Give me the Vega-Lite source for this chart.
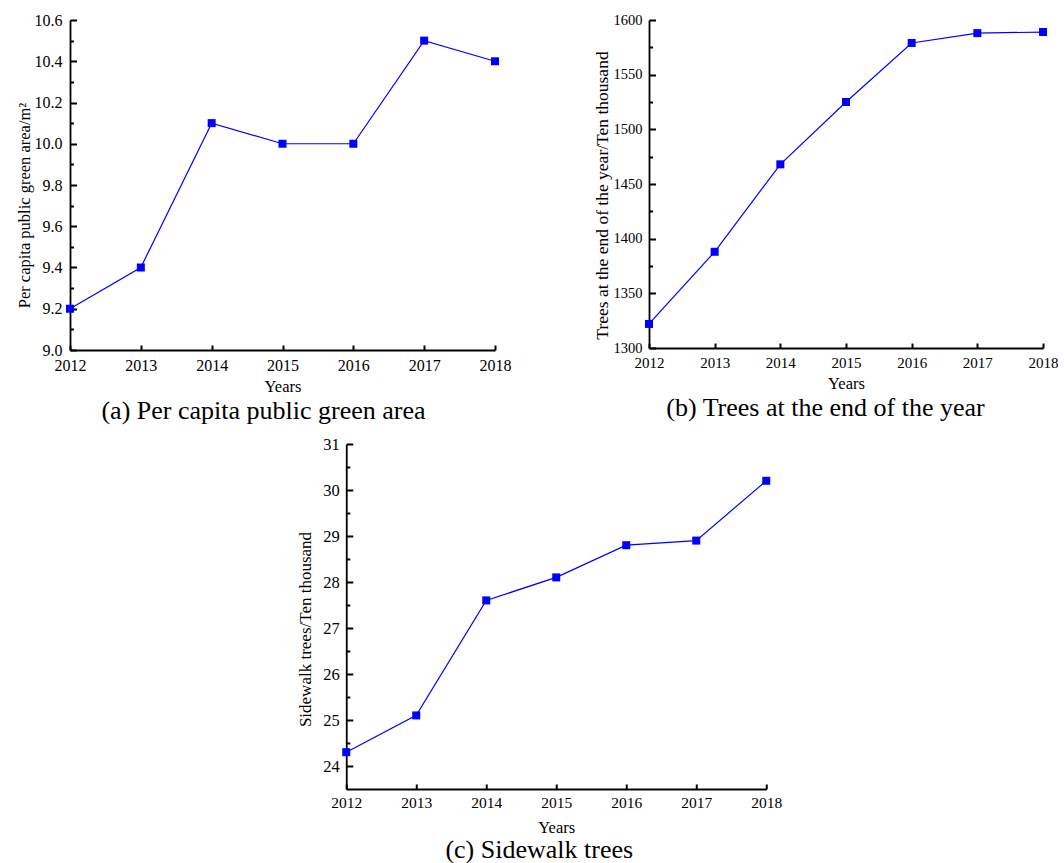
{
  "$schema": "https://vega.github.io/schema/vega-lite/v6.json",
  "background": "white",
  "padding": {"left": 16, "top": 12, "right": 0, "bottom": 0},
  "config": {
    "font": "Liberation Serif",
    "view": {"stroke": null},
    "axis": {
      "domainColor": "black", "domainWidth": 1.8,
      "tickColor": "black", "tickWidth": 2, "tickOpacity": 1,
      "labelColor": "black", "titleColor": "black",
      "labelFont": "Liberation Serif", "titleFont": "Liberation Serif",
      "titleFontWeight": "normal", "grid": false,
      "labelFlush": false, "labelOverlap": false
    },
    "title": {"font": "Liberation Serif", "fontSize": 26, "fontWeight": "normal", "orient": "bottom", "offset": 3, "color": "black", "anchor": "middle", "frame": "bounds"}
  },
  "datasets": {
    "a": [
      {"year": 2012, "value": 9.2}, {"year": 2013, "value": 9.4}, {"year": 2014, "value": 10.1},
      {"year": 2015, "value": 10.0}, {"year": 2016, "value": 10.0}, {"year": 2017, "value": 10.5}, {"year": 2018, "value": 10.4}
    ],
    "b": [
      {"year": 2012, "value": 1322}, {"year": 2013, "value": 1388}, {"year": 2014, "value": 1468},
      {"year": 2015, "value": 1525}, {"year": 2016, "value": 1579}, {"year": 2017, "value": 1588}, {"year": 2018, "value": 1589}
    ],
    "c": [
      {"year": 2012, "value": 24.3}, {"year": 2013, "value": 25.1}, {"year": 2014, "value": 27.6},
      {"year": 2015, "value": 28.1}, {"year": 2016, "value": 28.8}, {"year": 2017, "value": 28.9}, {"year": 2018, "value": 30.2}
    ]
  },
  "vconcat": [
    {
      "hconcat": [
        {
          "width": 425, "height": 330,
          "data": {"name": "a"},
          "title": {"text": "(a) Per capita public green area"},
          "layer": [
            {
              "mark": {"type": "line", "color": "#0000ff", "strokeWidth": 1.2},
              "encoding": {
                "x": {"field": "year", "type": "quantitative", "scale": {"domain": [2012, 2018], "nice": false, "zero": false},
                  "axis": {"title": "Years", "values": [2012, 2013, 2014, 2015, 2016, 2017, 2018], "format": "d", "ticks": false, "labelPadding": 7, "titlePadding": 5, "labelFontSize": 16, "titleFontSize": 16.5}},
                "y": {"field": "value", "type": "quantitative", "scale": {"domain": [9.0, 10.6], "nice": false, "zero": false},
                  "axis": {"title": "Per capita public green area/m²",
                    "values": [9.0, 9.2, 9.4, 9.6, 9.8, 10.0, 10.2, 10.4, 10.6], "format": ".1f",
                    "ticks": false, "labelPadding": 8, "titlePadding": 2, "titleY": 185, "labelFontSize": 16, "titleFontSize": 16.5}}
              }
            },
            {
              "mark": {"type": "point", "shape": "square", "filled": true, "color": "#0000ff", "size": 64, "opacity": 1},
              "encoding": {
                "x": {"field": "year", "type": "quantitative", "scale": {"domain": [2012, 2018], "nice": false, "zero": false},
                  "axis": {"orient": "top", "offset": -330, "title": null, "labels": false, "domain": false, "ticks": true, "values": [2012, 2013, 2014, 2015, 2016, 2017, 2018], "tickSize": 5}},
                "y": {"field": "value", "type": "quantitative", "scale": {"domain": [9.0, 10.6], "nice": false, "zero": false},
                  "axis": {"orient": "right", "offset": -425, "title": null, "labels": false, "domain": false, "ticks": true,
                    "values": [9.0, 9.1, 9.2, 9.3, 9.4, 9.5, 9.6, 9.7, 9.8, 9.9, 10.0, 10.1, 10.2, 10.3, 10.4, 10.5, 10.6],
                    "tickSize": {"condition": {"test": "round(datum.value*10) % 2 != 0", "value": 3.5}, "value": 6.5}}}
              }
            }
          ],
          "resolve": {"axis": {"x": "independent", "y": "independent"}}
        },
        {
          "width": 394, "height": 328,
          "data": {"name": "b"},
          "title": {"text": "(b) Trees at the end of the year"},
          "layer": [
            {
              "mark": {"type": "line", "color": "#0000ff", "strokeWidth": 1.2},
              "encoding": {
                "x": {"field": "year", "type": "quantitative", "scale": {"domain": [2012, 2018], "nice": false, "zero": false},
                  "axis": {"title": "Years", "values": [2012, 2013, 2014, 2015, 2016, 2017, 2018], "format": "d", "ticks": false, "labelPadding": 7, "titlePadding": 5, "labelFontSize": 15, "titleFontSize": 16.5}},
                "y": {"field": "value", "type": "quantitative", "scale": {"domain": [1300, 1600], "nice": false, "zero": false},
                  "axis": {"title": "Trees at the end of the year/Ten thousand",
                    "values": [1300, 1350, 1400, 1450, 1500, 1550, 1600], "format": "d",
                    "ticks": false, "labelPadding": 7, "titlePadding": 2, "titleY": 175, "labelFontSize": 14.5, "titleFontSize": 17.5}}
              }
            },
            {
              "mark": {"type": "point", "shape": "square", "filled": true, "color": "#0000ff", "size": 64, "opacity": 1},
              "encoding": {
                "x": {"field": "year", "type": "quantitative", "scale": {"domain": [2012, 2018], "nice": false, "zero": false},
                  "axis": {"orient": "top", "offset": -328, "title": null, "labels": false, "domain": false, "ticks": true, "values": [2012, 2013, 2014, 2015, 2016, 2017, 2018], "tickSize": 5}},
                "y": {"field": "value", "type": "quantitative", "scale": {"domain": [1300, 1600], "nice": false, "zero": false},
                  "axis": {"orient": "right", "offset": -394, "title": null, "labels": false, "domain": false, "ticks": true,
                    "values": [1300, 1325, 1350, 1375, 1400, 1425, 1450, 1475, 1500, 1525, 1550, 1575, 1600],
                    "tickSize": {"condition": {"test": "datum.value % 50 != 0", "value": 3.5}, "value": 6.5}}}
              }
            }
          ],
          "resolve": {"axis": {"x": "independent", "y": "independent"}}
        }
      ],
      "spacing": 154,
      "bounds": "flush"
    },
    {
      "width": 420, "height": 345,
      "data": {"name": "c"},
      "title": {"text": "(c) Sidewalk trees", "offset": 1},
      "layer": [
        {
          "mark": {"type": "line", "color": "#0000ff", "strokeWidth": 1.2},
          "encoding": {
            "x": {"field": "year", "type": "quantitative", "scale": {"domain": [2012, 2018], "nice": false, "zero": false},
              "axis": {"title": "Years", "values": [2012, 2013, 2014, 2015, 2016, 2017, 2018], "format": "d", "ticks": false, "labelPadding": 6, "titlePadding": 9, "labelFontSize": 15.5, "titleFontSize": 16.5}},
            "y": {"field": "value", "type": "quantitative", "scale": {"domain": [23.5, 31], "nice": false, "zero": false},
              "axis": {"title": "Sidewalk trees/Ten thousand",
                "values": [24, 25, 26, 27, 28, 29, 30, 31], "format": "d",
                "ticks": false, "labelPadding": 7, "titlePadding": 8, "titleY": 185, "labelFontSize": 16.5, "titleFontSize": 17}}
          }
        },
        {
          "mark": {"type": "point", "shape": "square", "filled": true, "color": "#0000ff", "size": 64, "opacity": 1},
          "encoding": {
            "x": {"field": "year", "type": "quantitative", "scale": {"domain": [2012, 2018], "nice": false, "zero": false},
              "axis": {"orient": "top", "offset": -345, "title": null, "labels": false, "domain": false, "ticks": true, "values": [2012, 2013, 2014, 2015, 2016, 2017, 2018], "tickSize": 5}},
            "y": {"field": "value", "type": "quantitative", "scale": {"domain": [23.5, 31], "nice": false, "zero": false},
              "axis": {"orient": "right", "offset": -420, "title": null, "labels": false, "domain": false, "ticks": true,
                "values": [24, 24.5, 25, 25.5, 26, 26.5, 27, 27.5, 28, 28.5, 29, 29.5, 30, 30.5, 31],
                "tickSize": {"condition": {"test": "datum.value % 1 != 0", "value": 3.5}, "value": 6.5}}}
          }
        }
      ],
      "resolve": {"axis": {"x": "independent", "y": "independent"}}
    }
  ],
  "spacing": 12,
  "center": true
}
